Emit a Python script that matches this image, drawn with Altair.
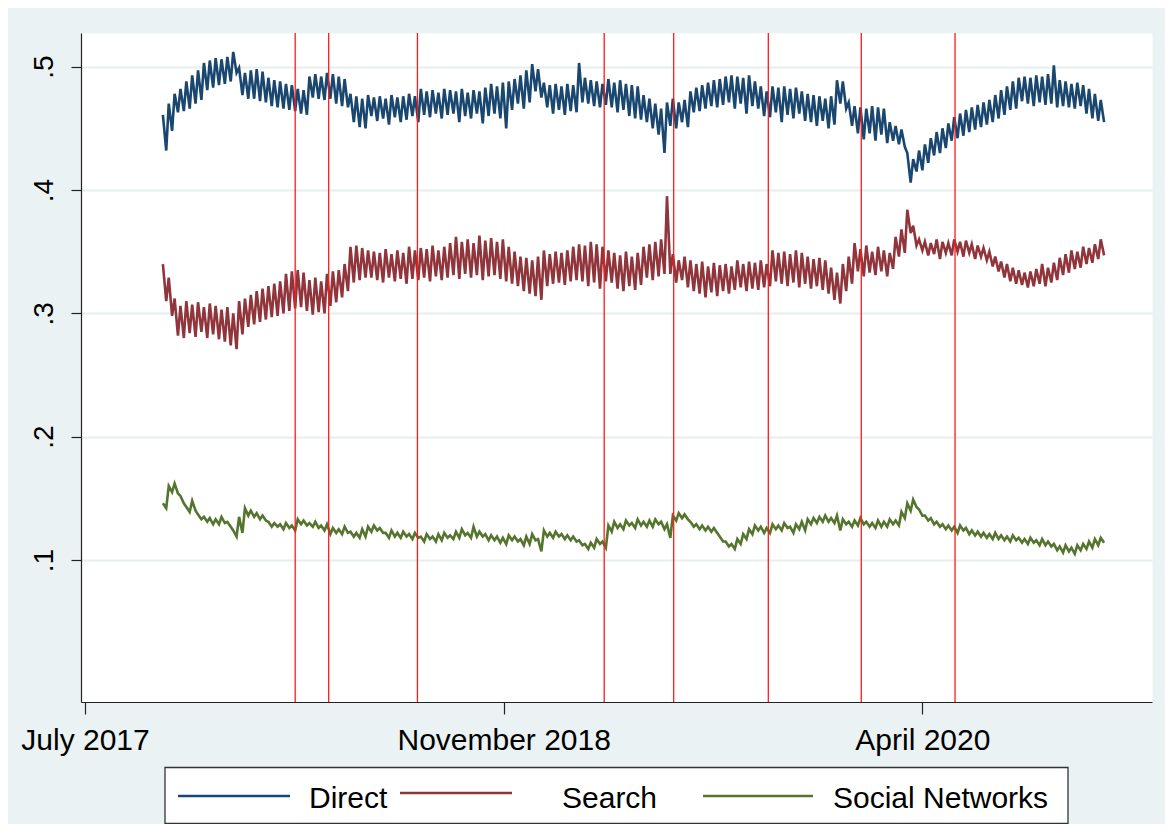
import altair as alt
import pandas as pd

SERIES = ["Direct", "Search", "Social Networks"]
COLORS = ["#1A476F", "#90353B", "#55752F"]

# weekly readings (thousandths), one week per entry, first week starting 2017-10-01
FIRST_WEEK = "2017-10-01"
DIRECT_HI = [461, 470, 478, 482, 488, 493, 497, 503, 505, 507, 506, 508, 512, 499, 495, 497, 498, 496, 491, 489,
             488, 486, 485, 482, 481, 492, 494, 492, 495, 494, 492, 490, 478, 476, 474, 477, 475, 476, 474, 477,
             475, 476, 478, 476, 482, 480, 481, 479, 482, 481, 480, 482, 479, 481, 480, 483, 486, 484, 487, 488,
             490, 493, 497, 502, 498, 487, 485, 486, 484, 486, 485, 503, 491, 489, 488, 486, 490, 487, 489, 486,
             485, 484, 477, 474, 470, 466, 471, 474, 471, 473, 480, 483, 485, 487, 489, 490, 492, 493, 492, 491,
             493, 488, 484, 480, 484, 483, 484, 482, 483, 480, 478, 477, 476, 474, 476, 489, 488, 471, 468, 467,
             466, 468, 467, 466, 455, 452, 449, 430, 425, 432, 437, 442, 447, 450, 454, 459, 462, 465, 467, 469,
             471, 473, 477, 481, 484, 488, 491, 492, 491, 493, 492, 494, 501, 489, 488, 486, 487, 485, 482, 478,
             473]
DIRECT_LO = [432, 448, 463, 464, 466, 470, 473, 481, 483, 485, 486, 488, 495, 477, 474, 474, 472, 471, 468, 467,
             466, 465, 464, 462, 461, 475, 474, 473, 474, 470, 468, 467, 455, 451, 450, 460, 456, 458, 453, 459,
             455, 457, 460, 455, 461, 459, 462, 458, 461, 462, 455, 460, 458, 462, 454, 460, 462, 458, 450, 465,
             470, 466, 471, 480, 475, 467, 462, 465, 461, 464, 463, 471, 470, 468, 467, 469, 467, 463, 465, 460,
             458, 457, 455, 450, 445, 430, 452, 450, 455, 451, 463, 464, 466, 468, 467, 469, 471, 466, 470, 462,
             468, 466, 460, 459, 463, 455, 461, 458, 462, 456, 455, 452, 456, 450, 453, 470, 466, 452, 446, 441,
             446, 440, 445, 438, 440, 437, 435, 406, 415, 416, 422, 428, 430, 434, 440, 442, 444, 447, 449, 451,
             453, 455, 458, 461, 465, 466, 472, 470, 468, 471, 469, 470, 467, 468, 467, 466, 468, 462, 458, 456,
             455]
SEARCH_HI = [340, 329, 312, 306, 310, 307, 309, 305, 308, 306, 303, 305, 300, 310, 312, 315, 318, 320, 322, 324,
             326, 332, 334, 335, 333, 327, 329, 326, 332, 334, 335, 340, 354, 355, 353, 351, 350, 349, 352, 348,
             351, 349, 354, 351, 353, 352, 355, 351, 354, 357, 362, 358, 360, 357, 363, 359, 361, 358, 360, 354,
             350, 346, 345, 343, 346, 351, 348, 350, 349, 351, 354, 356, 355, 358, 356, 354, 351, 349, 347, 350,
             346, 349, 354, 356, 358, 360, 395, 348, 343, 346, 343, 340, 342, 338, 341, 339, 340, 338, 343, 340,
             342, 341, 343, 340, 351, 349, 350, 348, 351, 349, 346, 344, 345, 343, 337, 333, 340, 346, 357, 352,
             355, 350, 354, 351, 349, 362, 368, 384, 371, 360, 358, 357, 360, 358, 357, 360, 358, 359, 356, 355,
             353, 350, 346, 342, 340, 337, 335, 333, 334, 336, 340, 337, 341, 345, 348, 351, 350, 354, 353, 356,
             360]
SEARCH_LO = [310, 298, 282, 280, 284, 281, 285, 280, 283, 279, 277, 274, 271, 283, 289, 291, 293, 295, 297, 298,
             300, 302, 304, 305, 302, 299, 301, 300, 306, 309, 313, 318, 325, 327, 329, 329, 327, 325, 329, 326,
             328, 324, 328, 327, 329, 326, 330, 327, 329, 331, 328, 332, 329, 331, 327, 330, 331, 328, 326, 324,
             322, 318, 316, 314, 311, 322, 324, 325, 323, 326, 327, 326, 322, 325, 320, 326, 325, 320, 318, 322,
             319, 323, 329, 327, 330, 332, 332, 325, 327, 321, 318, 316, 313, 317, 314, 318, 316, 319, 321, 318,
             320, 319, 321, 322, 326, 324, 322, 325, 321, 324, 320, 322, 319, 316, 311, 308, 318, 324, 334, 330,
             333, 331, 334, 330, 336, 346, 349, 365, 355, 351, 347, 348, 344, 349, 347, 350, 346, 349, 344, 346,
             343, 338, 334, 329, 326, 324, 323, 321, 322, 324, 322, 325, 327, 331, 333, 336, 337, 340, 341, 344,
             347]
SOCIAL_HI = [146, 160, 162, 152, 143, 148, 137, 135, 134, 133, 135, 131, 124, 135, 142, 140, 138, 136, 131, 130,
             129, 130, 128, 133, 132, 130, 131, 128, 129, 126, 125, 127, 123, 122, 125, 127, 128, 126, 122, 124,
             122, 123, 121, 122, 119, 121, 119, 121, 122, 120, 123, 125, 122, 127, 123, 121, 120, 119, 118, 120,
             119, 117, 119, 121, 117, 124, 122, 123, 121, 120, 119, 116, 113, 114, 117, 115, 128, 131, 129, 132,
             130, 133, 131, 132, 133, 131, 129, 136, 138, 137, 131, 129, 128, 127, 126, 119, 115, 113, 117, 121,
             125, 128, 127, 126, 129, 128, 130, 127, 129, 131, 133, 134, 135, 136, 134, 136, 133, 131, 132, 134,
             131, 130, 132, 131, 133, 132, 139, 146, 149, 141, 136, 134, 131, 129, 128, 127, 128, 126, 124, 123,
             122, 121, 122, 120, 119, 120, 118, 117, 118, 116, 117, 115, 113, 111, 112, 110, 112, 113, 115, 117,
             118]
SOCIAL_LO = [142, 155, 154, 146, 139, 140, 133, 131, 129, 129, 130, 127, 119, 122, 136, 135, 133, 132, 127, 127,
             125, 126, 124, 129, 128, 127, 126, 124, 121, 122, 121, 122, 119, 118, 119, 123, 124, 122, 118, 119,
             118, 119, 117, 118, 115, 117, 115, 116, 118, 117, 118, 120, 118, 119, 119, 116, 116, 114, 113, 116,
             115, 112, 113, 116, 107, 119, 118, 119, 117, 116, 115, 112, 109, 110, 113, 110, 123, 126, 125, 128,
             126, 128, 127, 127, 129, 125, 118, 132, 134, 133, 127, 125, 124, 123, 122, 115, 111, 109, 113, 117,
             121, 124, 122, 122, 125, 124, 126, 122, 125, 124, 129, 130, 131, 131, 130, 124, 129, 127, 128, 129,
             127, 126, 127, 127, 129, 128, 134, 140, 143, 136, 132, 129, 127, 125, 124, 122, 124, 121, 120, 119,
             118, 117, 117, 116, 115, 116, 114, 113, 114, 112, 112, 111, 108, 106, 107, 105, 108, 109, 110, 112,
             114]

UPDATE_DATES = ["2018-03-08", "2018-04-17", "2018-08-01", "2019-03-12",
                "2019-06-03", "2019-09-24", "2020-01-13", "2020-05-04"]
TICK_DATES = ["2017-06-30", "2018-11-12", "2020-03-26"]
TICK_LABELS = ["July 2017", "November 2018", "April 2020"]
Y_TICKS = [0.1, 0.2, 0.3, 0.4, 0.5]
X_DOMAIN = ["2017-06-25 05:00", "2020-12-25 05:00"]
Y_DOMAIN = [-0.0151, 0.5273]

FONT = "Liberation Sans"


def ms(ts):
    return int(pd.Timestamp(ts, tz="UTC").value // 10**6)


start = pd.Timestamp(FIRST_WEEK, tz="UTC")
rows = []
for name, hi, lo in [("Direct", DIRECT_HI, DIRECT_LO),
                     ("Search", SEARCH_HI, SEARCH_LO),
                     ("Social Networks", SOCIAL_HI, SOCIAL_LO)]:
    for w in range(len(hi)):
        t0 = start + pd.Timedelta(days=7 * w)
        rows.append({"series": name, "t": int(t0.value // 10**6), "v": hi[w] / 1000})
        rows.append({"series": name, "t": int((t0 + pd.Timedelta(days=4)).value // 10**6), "v": lo[w] / 1000})
df = pd.DataFrame(rows)

upd = pd.DataFrame({"t": [ms(d) for d in UPDATE_DATES]})

tick_ms = [ms(d) for d in TICK_DATES]
expr = "''"
for v, lab in reversed(list(zip(tick_ms, TICK_LABELS))):
    expr = f"abs(datum.value - {v}) < 43200000 ? '{lab}' : ({expr})"

x_enc = alt.X("t:T",
              scale=alt.Scale(type="utc", domain=[ms(X_DOMAIN[0]), ms(X_DOMAIN[1])], nice=False),
              axis=alt.Axis(values=tick_ms, labelExpr=expr, title=None, grid=False,
                            labelFont=FONT, labelFontSize=30, labelColor="black", labelLimit=0,
                            labelAngle=0, labelAlign="center", labelBaseline="alphabetic",
                            labelPadding=35, labelFlush=False, labelOverlap=False,
                            tickSize=12, tickColor="#222", tickWidth=1.2,
                            domainColor="#222", domainWidth=1.2))

y_enc = alt.Y("v:Q",
              scale=alt.Scale(domain=Y_DOMAIN, nice=False, zero=False),
              axis=alt.Axis(values=Y_TICKS, title=None,
                            labelExpr="replace(format(datum.value, '.1f'), '0.', '.')",
                            labelFont=FONT, labelFontSize=28, labelColor="black",
                            labelAngle=270, labelAlign="center", labelBaseline="alphabetic",
                            labelPadding=19, labelOverlap=False, labelFlush=False,
                            tickSize=10, tickColor="#222", tickWidth=1.2,
                            domainColor="#222", domainWidth=1.2,
                            grid=True, gridColor="#E6EEF0", gridWidth=2))

lines = alt.Chart(df).mark_line(strokeWidth=2.6, strokeJoin="miter").encode(
    x=x_enc, y=y_enc,
    color=alt.Color("series:N", scale=alt.Scale(domain=SERIES, range=COLORS), legend=None),
)

rules = alt.Chart(upd).mark_rule(color="#FF1A1A", strokeWidth=1.3).encode(x=alt.X("t:T"))

# manual legend (Stata-style box below the plot)
box = alt.Chart(pd.DataFrame({"series": [SERIES[0]]})).mark_rect(
    fill="white", stroke="#333333", strokeWidth=1.3).encode(
    x=alt.value(84), x2=alt.value(987), y=alt.value(734.5), y2=alt.value(790.5))

LEG_LINES = [(97, 209, 763), (319, 431, 760), (622, 732, 763)]
LEG_TEXT_X = [228, 481, 752]
legend_layers = [box]
for name, col, (xa, xb, yy), tx in zip(SERIES, COLORS, LEG_LINES, LEG_TEXT_X):
    one = pd.DataFrame({"series": [name]})
    legend_layers.append(alt.Chart(one).mark_rule(color=col, strokeWidth=2.6).encode(
        x=alt.value(xa), x2=alt.value(xb), y=alt.value(yy)))
    legend_layers.append(alt.Chart(one).mark_text(
        align="left", baseline="alphabetic", font=FONT, fontSize=30, color="black").encode(
        x=alt.value(tx), y=alt.value(775), text="series:N"))

chart = alt.layer(lines, rules, *legend_layers).properties(
    width=1071, height=669,
    padding={"left": 73, "top": 25, "right": 13, "bottom": 122},
    autosize=alt.AutoSizeParams(type="none"),
    background="#EAF2F3",
).configure_view(fill="white", stroke="transparent")

chart.save("out.html", embed_options={"renderer": "svg", "actions": False})
